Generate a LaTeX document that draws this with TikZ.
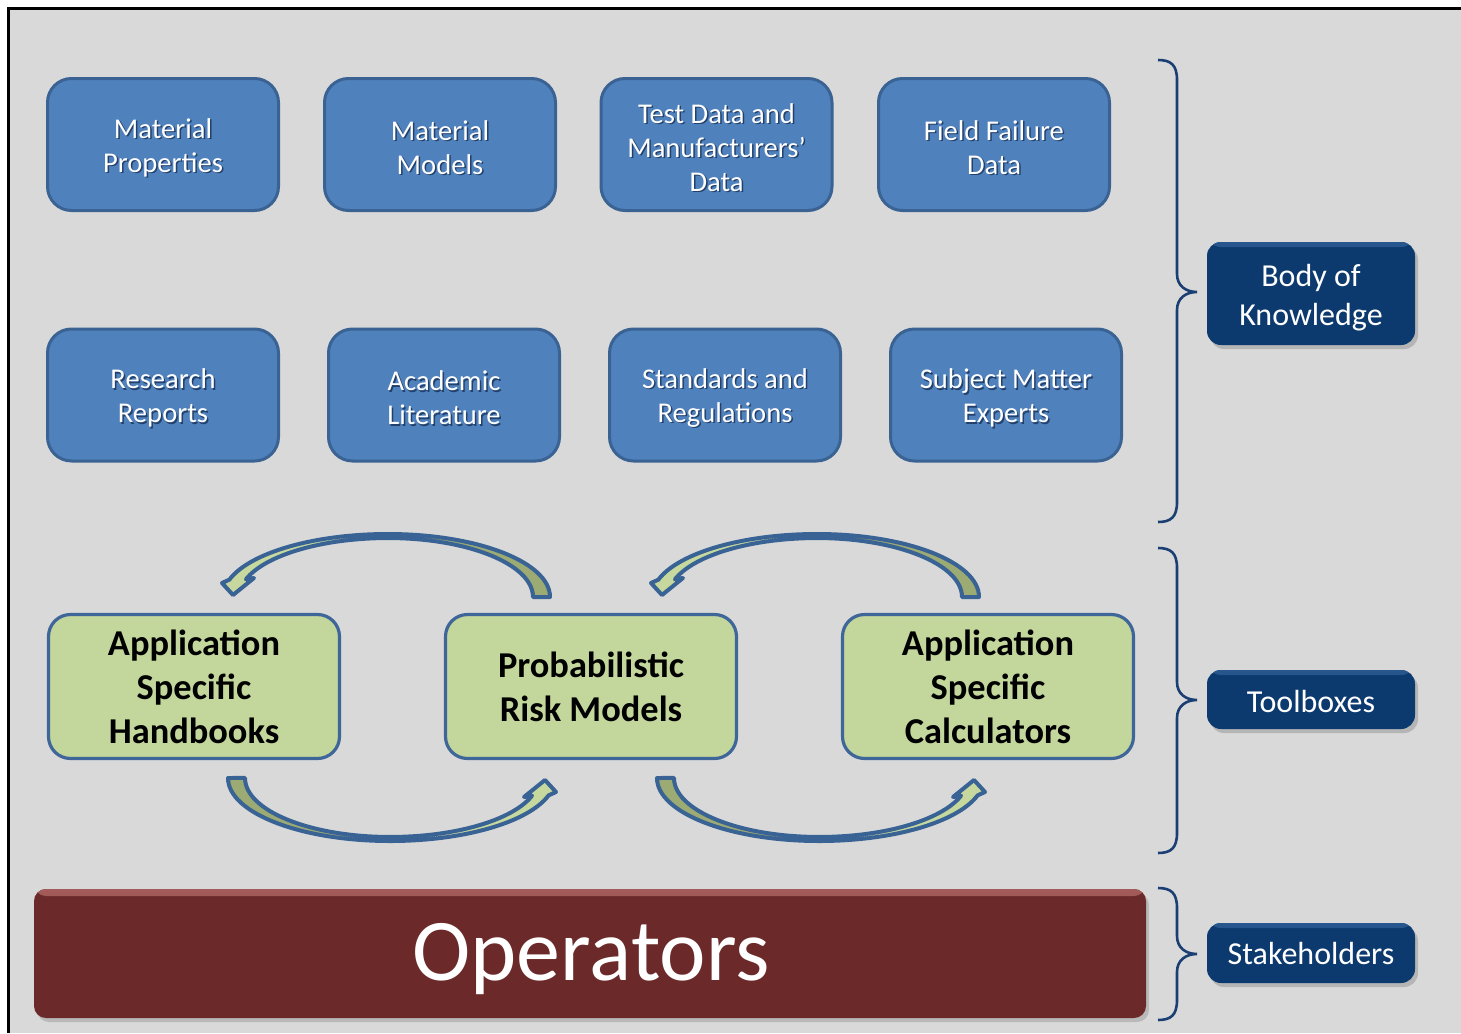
\documentclass[tikz,border=0pt]{standalone}
\usepackage{fontspec}
\setmainfont{Carlito}
\usetikzlibrary{calc,shadows}

\definecolor{bggray}{HTML}{D9D9D9}
\definecolor{kfill}{HTML}{4F81BD}
\definecolor{kline}{HTML}{3A6393}
\definecolor{kshadow}{HTML}{22406A}
\definecolor{tfill}{HTML}{C3D69B}
\definecolor{tline}{HTML}{3F6699}
\definecolor{arrlightc}{HTML}{C6D89D}
\definecolor{arrdarkc}{HTML}{9CAA73}
\definecolor{arrlinec}{HTML}{3A6395}
\definecolor{bracec}{HTML}{1B3F73}
\definecolor{lblfill}{HTML}{0C3A6F}
\definecolor{lbltop}{HTML}{28578F}
\definecolor{opfill}{HTML}{6B2A29}
\definecolor{optop}{HTML}{A35C59}

% knowledge box: empty box, dark text shadow, white text
\newcommand\knowbox[4]{%
  \node[kbox] (#1) at (#2,#3) {};
  \node[ktext, text=kshadow] (#1-shadow) at ([shift={(1.5,4.5)}]#1.center) {#4};
  \node[ktext] (#1-label) at ([shift={(0,3)}]#1.center) {#4};}

% curly brace on the right: top, middle (tip), bottom
\newcommand\sidebrace[3]{%
  \draw[bracel] (1158,#1) .. controls (1171,#1) and (1177,#1+5) .. (1177,#1+20)
    -- (1177,#2-18) .. controls (1177,#2-6) and (1186,#2) .. (1197,#2)
    .. controls (1186,#2) and (1177,#2+6) .. (1177,#2+18)
    -- (1177,#3-20) .. controls (1177,#3-5) and (1171,#3) .. (1158,#3);}

% curved block arrow, tail on the left, head on the right (local frame)
\newcommand\cyclearrow[1]{%
  \begin{scope}[#1]
    \fill[arrdarkc] (-162,0) arc[start angle=180,end angle=90,x radius=162,y radius=63]
      -- (0,59) arc[start angle=90,end angle=180,x radius=145,y radius=59] -- cycle;
    \fill[arrlightc] (0,63) arc[start angle=90,end angle=16,x radius=165,y radius=63]
      -- (166,14) -- (155,2) -- (134,19) -- (142.1,17.7)
      arc[start angle=17.5,end angle=90,x radius=149,y radius=59] -- cycle;
    \draw[arrline] (-162,0) arc[start angle=180,end angle=90,x radius=162,y radius=63]
      arc[start angle=90,end angle=16,x radius=165,y radius=63]
      -- (166,14) -- (155,2) -- (134,19) -- (142.1,17.7)
      arc[start angle=17.5,end angle=90,x radius=149,y radius=59]
      arc[start angle=90,end angle=180,x radius=145,y radius=59] -- cycle;
  \end{scope}}

\begin{document}
\begin{tikzpicture}[x=0.5pt,y=-0.5pt,
  kbox/.style={draw=kline, line width=1.5pt, fill=kfill, rounded corners=12pt,
    minimum width=115.5pt, minimum height=66pt, inner sep=0pt},
  ktext/.style={align=center, font=\fontsize{14.3}{17}\selectfont, text=white, inner sep=0pt},
  tbox/.style={draw=tline, line width=1.6pt, fill=tfill, rounded corners=11pt,
    minimum width=145.5pt, minimum height=72pt, inner sep=0pt, align=center,
    font=\fontsize{18.2}{22}\selectfont\bfseries, text=black},
  lbl/.style={fill=lblfill, rounded corners=7pt, minimum width=104pt, inner sep=0pt,
    drop shadow={shadow xshift=1.5pt, shadow yshift=-2pt, opacity=0.4},
    path picture={\shade[top color=lbltop, bottom color=lblfill]
      (path picture bounding box.north west) rectangle
      ([yshift=-2.5pt]path picture bounding box.north east);}},
  lbltext/.style={text=white, align=center, font=\fontsize{16}{19.5}\selectfont, inner sep=0pt},
  opbox/.style={fill=opfill, rounded corners=6pt, minimum width=556pt, minimum height=64.5pt,
    inner sep=0pt, drop shadow={shadow xshift=1.5pt, shadow yshift=-2pt, opacity=0.35},
    path picture={\shade[top color=optop, bottom color=opfill]
      (path picture bounding box.north west) rectangle
      ([yshift=-3.5pt]path picture bounding box.north east);}},
  optext/.style={text=white, font=\fontsize{44}{50}\selectfont, inner sep=0pt},
  bracel/.style={draw=bracec, line width=1.3pt},
  arrline/.style={draw=arrlinec, line width=2pt, line join=round}]

\useasboundingbox (0,0) rectangle (1461,1033);

% page and frame
\fill[white] (0,0) rectangle (1461,1033);
\fill[bggray] (9,9) rectangle (1461,1033);
\draw[black, line width=1.25pt] (8.5,1033) -- (8.5,8.5) -- (1461,8.5);

% body of knowledge: two rows of sources
\knowbox{matprop}{163}{144.5}{Material\\Properties}
\knowbox{matmod}{440}{144.5}{Material\\Models}
\knowbox{testdata}{716.5}{144.5}{Test Data and\\Manufacturers’\\Data}
\knowbox{field}{994}{144.5}{Field Failure\\Data}
\knowbox{research}{163}{395}{Research\\Reports}
\knowbox{academic}{444}{395}{Academic\\Literature}
\knowbox{standards}{725}{395}{Standards and\\Regulations}
\knowbox{experts}{1006}{395}{Subject Matter\\Experts}

% toolboxes
\node[tbox] (handbooks) at (194,686.5) {Application\\Specific\\Handbooks};
\node[tbox] (prm) at (591,686.5) {Probabilistic\\Risk Models};
\node[tbox] (calc) at (988,686.5) {Application\\Specific\\Calculators};

% curved arrows cycling between the toolboxes
\cyclearrow{shift={(390,778)}}
\cyclearrow{shift={(819,778)}}
\cyclearrow{shift={(388,597)}, rotate=180}
\cyclearrow{shift={(817,597)}, rotate=180}

% stakeholders
\node[opbox] (operators) at (590,953.5) {};
\node[optext] (operators-label) at ([shift={(1,6)}]operators.center) {Operators};

% group labels
\node[lbl, minimum height=51.5pt] (bok) at (1311,293.5) {};
\node[lbltext] (bok-label) at ([shift={(0,4)}]bok.center) {Body of\\Knowledge};
\node[lbl, minimum height=29.5pt] (tools) at (1311,699.5) {};
\node[lbltext] (tools-label) at ([shift={(0,1.5)}]tools.center) {Toolboxes};
\node[lbl, minimum height=30pt] (stake) at (1311,953) {};
\node[lbltext] (stake-label) at ([shift={(0,0.5)}]stake.center) {Stakeholders};

% braces grouping each layer
\sidebrace{60}{292}{522}
\sidebrace{548}{700}{853}
\sidebrace{888}{954}{1020}

\end{tikzpicture}
\end{document}
